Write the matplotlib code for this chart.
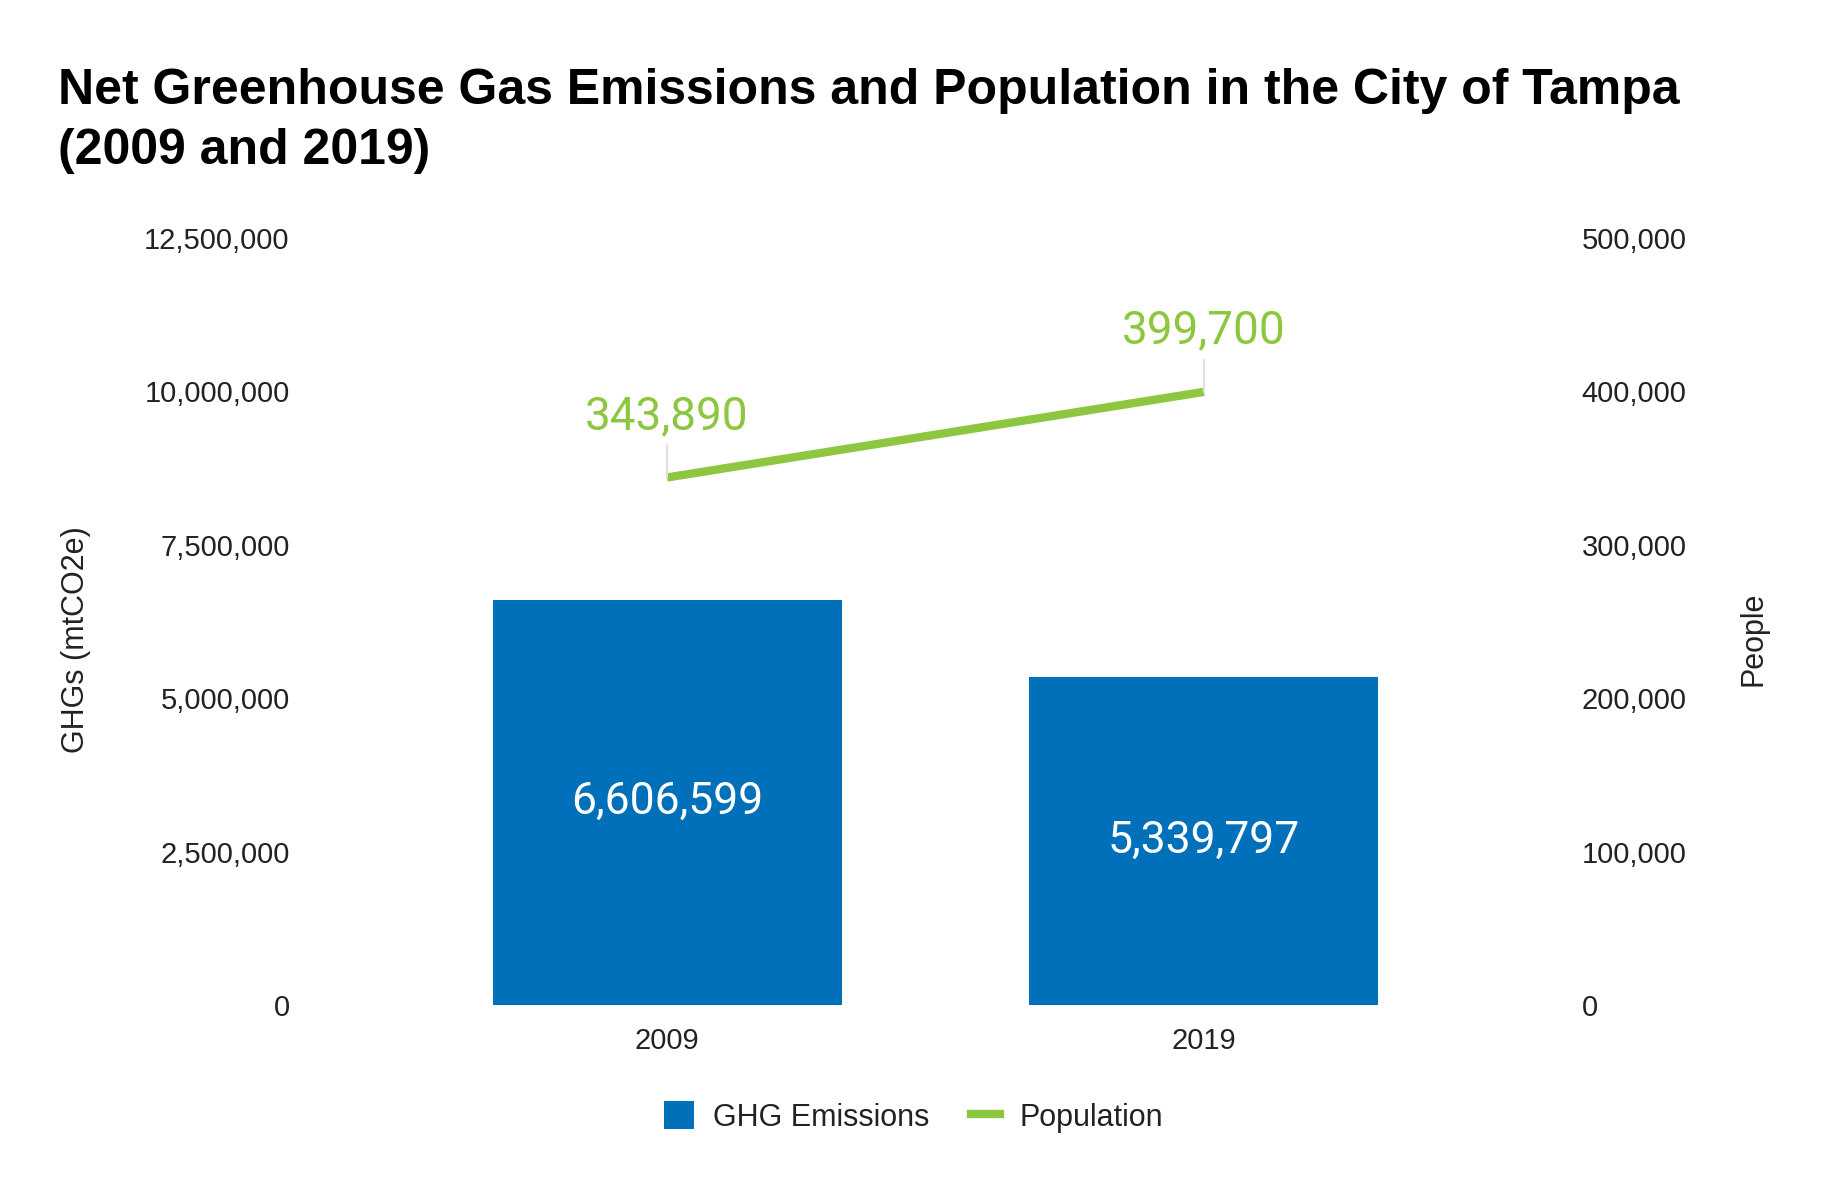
import matplotlib
matplotlib.use("Agg")
import matplotlib.pyplot as plt
from matplotlib.patches import Patch
from matplotlib.lines import Line2D
from matplotlib.ticker import FuncFormatter

# data
years = ["2009", "2019"]
ghg = [6606599, 5339797]
population = [343890, 399700]

ghg_ticks = [0, 2500000, 5000000, 7500000, 10000000, 12500000]
pop_ticks = [0, 100000, 200000, 300000, 400000, 500000]

bar_color = "#0070bb"
line_color = "#8dc63f"
text_color = "#222222"

plt.rcParams["font.family"] = ["Liberation Sans", "DejaVu Sans"]

fig = plt.figure(figsize=(18.28, 11.91), dpi=100)
ax = fig.add_axes([309 / 1828, 1 - 1005 / 1191, 1253 / 1828, 767 / 1191])
ax2 = ax.twinx()

x = list(range(len(years)))

# bars (left axis)
ax.bar(x, ghg, width=0.65, color=bar_color, zorder=2)
for xi, v in zip(x, ghg):
    ax.text(xi, v / 2, f"{v:,}", ha="center", va="center", color="white",
            fontsize=32, family="Roboto")

ax.set_xlim(-0.667, 1.667)
ax.set_ylim(0, 12500000)
ax.set_yticks(ghg_ticks)
ax.yaxis.set_major_formatter(FuncFormatter(lambda v, p: f"{int(v):,}"))
ax.set_xticks(x)
ax.set_xticklabels(years)
ax.tick_params(axis="y", length=0, pad=14, labelsize=21, labelcolor=text_color)
ax.tick_params(axis="x", length=0, pad=16, labelsize=21, labelcolor=text_color)
ax.set_ylabel("GHGs (mtCO2e)", fontsize=22, color=text_color)
ax.yaxis.set_label_coords(-0.174, 0.477)

# line (right axis)
ax2.plot(x, population, color=line_color, lw=6, solid_capstyle="butt", zorder=3)
for xi, v in zip(x, population):
    ax2.annotate(f"{v:,}", xy=(xi, v), xytext=(0, 44), textcoords="offset points",
                 ha="center", va="center", color=line_color, fontsize=33,
                 family="Roboto",
                 arrowprops=dict(arrowstyle="-", color="#e0e0e0", lw=1.5,
                                 shrinkA=3, shrinkB=0))
ax2.set_ylim(0, 500000)
ax2.set_yticks(pop_ticks)
ax2.yaxis.set_major_formatter(FuncFormatter(lambda v, p: f"{int(v):,}"))
ax2.tick_params(axis="y", length=0, pad=14, labelsize=21, labelcolor=text_color)
ax2.set_ylabel("People", fontsize=22, color=text_color)
ax2.yaxis.set_label_coords(1.1405, 0.477)

for a in (ax, ax2):
    for s in a.spines.values():
        s.set_visible(False)

# title
fig.text(58 / 1828, 1 - 68 / 1191,
         "Net Greenhouse Gas Emissions and Population in the City of Tampa\n(2009 and 2019)",
         ha="left", va="top", fontsize=36, fontweight="bold", color="black",
         linespacing=1.38)

# legend
handles = [Patch(facecolor=bar_color, edgecolor="none"),
           Line2D([0], [0], color=line_color, lw=6)]
fig.legend(handles, ["GHG Emissions", "Population"], loc="center",
           bbox_to_anchor=(0.5, 1 - 1117 / 1191), ncol=2, frameon=False,
           fontsize=22, handlelength=0.95, handleheight=1.0, columnspacing=1.35,
           handletextpad=0.65, labelcolor=text_color)

fig.savefig("out.png", dpi=100)
